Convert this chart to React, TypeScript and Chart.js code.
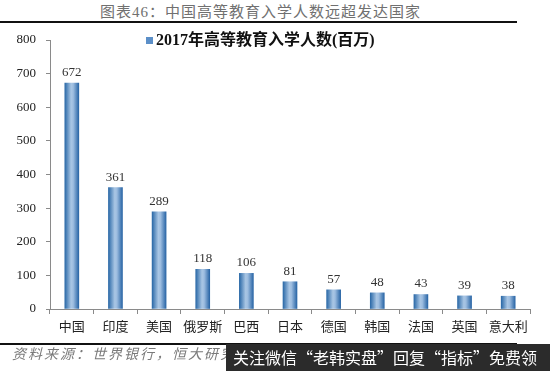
import React, { useEffect, useRef } from "react";
import { Chart, registerables } from "chart.js";

Chart.register(...registerables);

const categories = ["中国", "印度", "美国", "俄罗斯", "巴西", "日本", "德国", "韩国", "法国", "英国", "意大利"];
const enrolment = [672, 361, 289, 118, 106, 81, 57, 48, 43, 39, 38];
const seriesLabel = "2017年高等教育入学人数(百万)";
const titleText = "图表46：中国高等教育入学人数远超发达国家";
const sourceText = "资料来源：世界银行，恒大研究院";
const watermarkText = "关注微信“老韩实盘”回复“指标”免费领";

const SERIF = '"Liberation Serif", "Noto Sans CJK SC", serif';

const valueLabels = {
  id: "valueLabels",
  afterDatasetsDraw(chart: any) {
    const ctx = chart.ctx;
    const meta = chart.getDatasetMeta(0);
    ctx.save();
    ctx.font = `13px ${SERIF}`;
    ctx.fillStyle = "#333";
    ctx.textAlign = "center";
    ctx.textBaseline = "bottom";
    meta.data.forEach((bar: any, i: number) => {
      ctx.fillText(String(chart.data.datasets[0].data[i]), bar.x, bar.y - 4);
    });
    ctx.restore();
  },
};

export default function App() {
  const ref = useRef<HTMLCanvasElement>(null);
  useEffect(() => {
    if (!ref.current) return;
    const chart = new Chart(ref.current, {
      type: "bar",
      data: {
        labels: categories,
        datasets: [
          {
            label: seriesLabel,
            data: enrolment,
            barThickness: 14,
            backgroundColor: (c: any) => {
              const ch = c.chart;
              if (!ch.chartArea) return "#3d7ab9";
              const x = ch.scales.x.getPixelForValue(c.dataIndex);
              const g = ch.ctx.createLinearGradient(x - 7, 0, x + 7, 0);
              g.addColorStop(0, "#2c6aa8");
              g.addColorStop(0.45, "#a9c6e4");
              g.addColorStop(0.6, "#9dbde0");
              g.addColorStop(1, "#2a66a6");
              return g;
            },
          },
        ],
      },
      options: {
        animation: false,
        responsive: false,
        maintainAspectRatio: false,
        layout: { padding: { top: 40, right: 20, bottom: 32, left: 0 } },
        plugins: {
          legend: { display: false },
          tooltip: { enabled: false },
          title: { display: false },
        },
        scales: {
          x: {
            afterFit: (s: any) => {
              s.height = 30;
            },
            grid: {
              offset: true,
              drawOnChartArea: false,
              drawTicks: true,
              tickLength: 5,
              color: "#8a8a8a",
            },
            border: { display: true, color: "#8a8a8a", width: 1 },
            ticks: {
              font: { family: SERIF, size: 13 },
              color: "#222",
              padding: 6,
              autoSkip: false,
              maxRotation: 0,
            },
          },
          y: {
            min: 0,
            max: 800,
            afterFit: (s: any) => {
              s.width = 50;
            },
            grid: {
              drawOnChartArea: false,
              drawTicks: true,
              tickLength: 4,
              color: "#8a8a8a",
            },
            border: { display: true, color: "#8a8a8a", width: 1 },
            ticks: {
              stepSize: 100,
              font: { family: SERIF, size: 13 },
              color: "#222",
              padding: 10,
            },
          },
        },
      },
      plugins: [valueLabels],
    });
    return () => chart.destroy();
  }, []);

  return (
    <div
      style={{
        position: "fixed",
        left: 0,
        top: 0,
        width: 550,
        height: 371,
        background: "#fff",
        overflow: "hidden",
      }}
    >
      <div
        style={{
          position: "absolute",
          left: 100,
          top: 3,
          font: `15px ${SERIF}`,
          color: "#707070",
          whiteSpace: "nowrap",
          lineHeight: "18px",
          letterSpacing: "1px",
        }}
      >
        {titleText}
      </div>
      <div style={{ position: "absolute", left: 0, top: 21, width: 517, height: 2, background: "#111" }} />
      <canvas ref={ref} width={550} height={371} style={{ position: "absolute", left: 0, top: 0 }} />
      <div
        style={{
          position: "absolute",
          left: 146,
          top: 31,
          display: "flex",
          alignItems: "center",
          whiteSpace: "nowrap",
        }}
      >
        <span style={{ display: "inline-block", width: 7, height: 7, background: "#5b8fc8", marginRight: 3 }} />
        <span style={{ font: `bold 16px ${SERIF}`, color: "#111", lineHeight: "18px" }}>{seriesLabel}</span>
      </div>
      <div style={{ position: "absolute", left: 0, top: 343, width: 517, height: 2, background: "#111" }} />
      <div
        style={{
          position: "absolute",
          left: 12,
          top: 346,
          font: `italic 14px ${SERIF}`,
          color: "#7a7a7a",
          whiteSpace: "nowrap",
          lineHeight: "18px",
          letterSpacing: "2px",
        }}
      >
        {sourceText}
      </div>
      <div
        style={{
          position: "absolute",
          left: 226,
          top: 344,
          width: 324,
          height: 27,
          background: "#2b2b2b",
          color: "#fff",
          font: '16px "Noto Sans CJK SC", sans-serif',
          lineHeight: "27px",
          paddingLeft: 7,
          boxSizing: "border-box",
          whiteSpace: "nowrap",
        }}
      >
        {watermarkText}
      </div>
    </div>
  );
}
